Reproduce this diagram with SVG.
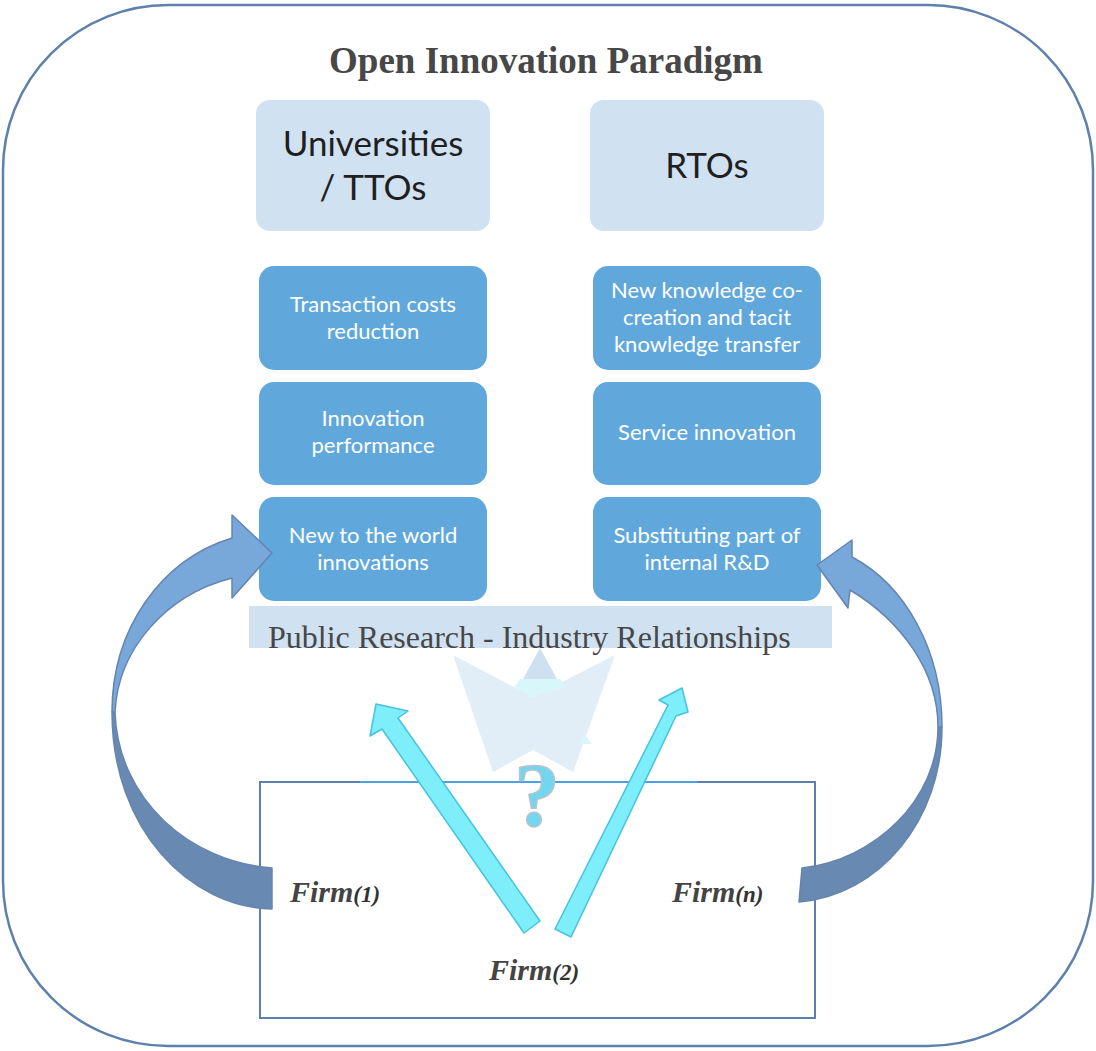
<svg xmlns="http://www.w3.org/2000/svg" width="1096" height="1051" viewBox="0 0 1096 1051">
<style>
.outer{fill:#fff;stroke:#5e80ad;stroke-width:2.5}
.title{font-family:"Liberation Serif",serif;font-weight:bold;font-size:37px;fill:#474747;text-anchor:middle}
.head{fill:#d0e1f2}
.headtxt{font-family:Lato,"Noto Sans",sans-serif;font-size:35px;fill:#1f1f1f;text-anchor:middle}
.box{fill:#60a8dc}
.boxtxt{font-family:Lato,"Noto Sans",sans-serif;font-size:22px;fill:#fff;text-anchor:middle}
.band{fill:#d0e1f2}
.bandtxt{font-family:"Liberation Serif",serif;font-size:32px;fill:#474747}
.firmbox{fill:#fff;stroke:#5e80ad;stroke-width:2}
.firm{font-family:"Liberation Serif",serif;font-weight:bold;font-style:italic;font-size:30px;fill:#444}
.sub{font-size:23px;fill:#333}
.cyan{fill:#7eeefa;stroke:#45c2e4;stroke-width:1.5;stroke-linejoin:round}
.curveL{fill:#78a7da;stroke:#6585b0;stroke-width:1.5;stroke-linejoin:round}
.curveD{fill:#6889b2;stroke:#6585b0;stroke-width:1.5;stroke-linejoin:round}
</style>
<rect class="outer" x="3" y="5" width="1090" height="1041" rx="165" ry="165"/>
<text class="title" x="546" y="73">Open Innovation Paradigm</text>

<g id="universities">
<rect class="head" x="256" y="100" width="234" height="131" rx="14"/>
<text class="headtxt" x="373" y="156">Universities</text>
<text class="headtxt" x="373" y="200">/ TTOs</text>
</g>
<g id="rtos">
<rect class="head" x="590" y="100" width="234" height="131" rx="14"/>
<text class="headtxt" x="707" y="178">RTOs</text>
</g>

<g id="transaction-costs">
<rect class="box" x="259" y="266" width="228" height="104" rx="15"/>
<text class="boxtxt" x="373" y="312">Transaction costs</text>
<text class="boxtxt" x="373" y="339">reduction</text>
</g>
<g id="innovation-performance">
<rect class="box" x="259" y="382" width="228" height="103" rx="15"/>
<text class="boxtxt" x="373" y="426">Innovation</text>
<text class="boxtxt" x="373" y="453">performance</text>
</g>
<g id="new-to-world">
<rect class="box" x="259" y="497" width="228" height="104" rx="15"/>
<text class="boxtxt" x="373" y="543">New to the world</text>
<text class="boxtxt" x="373" y="570">innovations</text>
</g>
<g id="knowledge-cocreation">
<rect class="box" x="593" y="266" width="228" height="104" rx="15"/>
<text class="boxtxt" x="707" y="298">New knowledge co-</text>
<text class="boxtxt" x="707" y="325">creation and tacit</text>
<text class="boxtxt" x="707" y="352">knowledge transfer</text>
</g>
<g id="service-innovation">
<rect class="box" x="593" y="382" width="228" height="103" rx="15"/>
<text class="boxtxt" x="707" y="440">Service innovation</text>
</g>
<g id="substituting-rd">
<rect class="box" x="593" y="497" width="228" height="104" rx="15"/>
<text class="boxtxt" x="707" y="543">Substituting part of</text>
<text class="boxtxt" x="707" y="570">internal R&amp;D</text>
</g>

<g id="public-research">
<rect class="band" x="249" y="606" width="583" height="42"/>
<text class="bandtxt" x="268" y="648">Public Research - Industry Relationships</text>
</g>

<g id="butterfly">
<polygon points="453,655 533,697 615,655 573,772 533,750 493,772" fill="#e1eef8"/>
<polygon points="540,648 523,679 557,679" fill="#cfe0f1"/>
<polygon points="520,679 560,679 566,687 533,697 514,688" fill="#d8f7fb"/>
<polygon points="584,734 592,744 580,744" fill="#d8f7fb"/>
</g>

<g id="firms">
<rect class="firmbox" x="260" y="782" width="555" height="236"/>
<line x1="360" y1="782" x2="698" y2="782" stroke="#4aa0e6" stroke-width="2"/>
<text class="firm" x="290" y="902">Firm<tspan class="sub">(1)</tspan></text>
<text class="firm" x="489" y="980">Firm<tspan class="sub">(2)</tspan></text>
<text class="firm" x="672" y="902">Firm<tspan class="sub">(n)</tspan></text>
</g>

<g id="question">
<text x="537" y="826" font-family="Liberation Serif,serif" font-weight="bold" font-size="92" text-anchor="middle" fill="#72d6ef" stroke="#b8c4cc" stroke-width="1.5">?</text>
</g>

<g id="connectors">
<polygon class="cyan" points="524,933 540,921 398,718 408,711 376,704 370,736 382,729"/>
<polygon class="cyan" points="555,929 571,937 676,716 688,712 682,688 659,700 668,705"/>

<path class="curveD" d="M112,712 C112,830 190,907 272,909 L272,868 C190,862 118,800 115,712 Z"/>
<path class="curveL" d="M112,712 C112,630 160,560 232,538 L232,515 L272,553 L232,598 L232,578 C165,595 118,650 115,712 Z"/>

<path class="curveD" d="M942,727 C942,820 880,895 799,902 L802,868 C875,860 938,800 938,727 Z"/>
<path class="curveL" d="M942,727 C942,650 905,585 852,557 L852,540 L817,565 L848,608 L850,590 C900,620 938,670 938,727 Z"/>
</g>
</svg>
